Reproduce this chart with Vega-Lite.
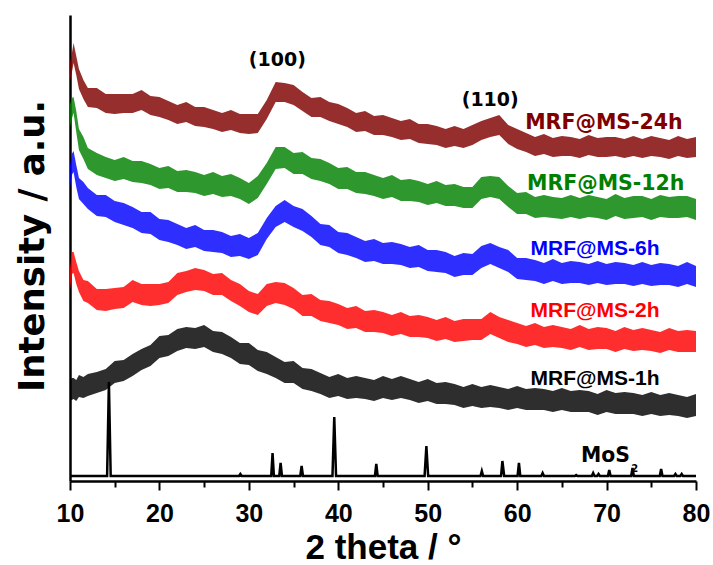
{
"$schema": "https://vega.github.io/schema/vega-lite/v6.json",
"width": 626, "height": 466,
"autosize": {"type": "none"},
"padding": {"left": 70, "top": 15, "right": 17, "bottom": 84},
"background": "white",
"config": {
"view": {"stroke": null},
"axisY": {"labels": false, "ticks": false, "grid": false,
"domainWidth": 2.5, "domainColor": "black",
"titleFont": "DejaVu Sans", "titleFontSize": 35.5, "titleFontWeight": "bold", "titleColor": "black",
"titleAngle": 270, "titleX": -27, "titleY": 230.5, "titleAlign": "center", "titleBaseline": "alphabetic"}
},
"datasets": {
"xrd": [
{"x":10,"h24":419,"l24":400,"h12":376,"l12":354,"h6":315,"l6":293,"h2":212,"l2":191,"h1":101,"l1":80},
{"x":10.2,"h24":427,"l24":408,"h12":383,"l12":362,"h6":327,"l6":306,"h2":229,"l2":207,"h1":103,"l1":81},
{"x":10.4,"h24":438,"l24":418,"h12":384,"l12":368,"h6":330,"l6":309,"h2":229,"l2":208,"h1":103,"l1":82},
{"x":10.7,"h24":425,"l24":406,"h12":370,"l12":349,"h6":316,"l6":294,"h2":219,"l2":197,"h1":101,"l1":80},
{"x":11,"h24":412,"l24":392,"h12":352,"l12":331,"h6":303,"l6":282,"h2":210,"l2":189,"h1":106,"l1":84},
{"x":11.5,"h24":401,"l24":382,"h12":344,"l12":322,"h6":299,"l6":277,"h2":201,"l2":180,"h1":104,"l1":83},
{"x":12,"h24":393,"l24":374,"h12":333,"l12":312,"h6":293,"l6":272,"h2":200,"l2":178,"h1":107,"l1":85},
{"x":13,"h24":393,"l24":373,"h12":328,"l12":306,"h6":286,"l6":265,"h2":192,"l2":171,"h1":109,"l1":88},
{"x":14,"h24":387,"l24":368,"h12":324,"l12":303,"h6":286,"l6":264,"h2":192,"l2":170,"h1":112,"l1":91},
{"x":15,"h24":387,"l24":367,"h12":321,"l12":300,"h6":280,"l6":259,"h2":193,"l2":172,"h1":120,"l1":98},
{"x":16,"h24":387,"l24":368,"h12":324,"l12":302,"h6":278,"l6":256,"h2":194,"l2":173,"h1":121,"l1":100},
{"x":17,"h24":387,"l24":368,"h12":320,"l12":299,"h6":274,"l6":253,"h2":201,"l2":179,"h1":127,"l1":105},
{"x":18,"h24":391,"l24":371,"h12":320,"l12":298,"h6":269,"l6":248,"h2":197,"l2":176,"h1":132,"l1":111},
{"x":19,"h24":385,"l24":366,"h12":317,"l12":296,"h6":269,"l6":247,"h2":197,"l2":175,"h1":136,"l1":115},
{"x":20,"h24":384,"l24":364,"h12":313,"l12":292,"h6":262,"l6":241,"h2":197,"l2":176,"h1":145,"l1":123},
{"x":21,"h24":380,"l24":361,"h12":315,"l12":293,"h6":261,"l6":239,"h2":199,"l2":178,"h1":146,"l1":125},
{"x":22,"h24":376,"l24":357,"h12":310,"l12":289,"h6":257,"l6":236,"h2":208,"l2":186,"h1":152,"l1":130},
{"x":23,"h24":379,"l24":359,"h12":311,"l12":289,"h6":253,"l6":232,"h2":210,"l2":189,"h1":154,"l1":133},
{"x":24,"h24":374,"l24":355,"h12":309,"l12":288,"h6":256,"l6":234,"h2":213,"l2":191,"h1":153,"l1":132},
{"x":25,"h24":374,"l24":354,"h12":306,"l12":285,"h6":251,"l6":230,"h2":211,"l2":190,"h1":156,"l1":134},
{"x":26,"h24":371,"l24":352,"h12":309,"l12":287,"h6":251,"l6":229,"h2":207,"l2":186,"h1":150,"l1":129},
{"x":27,"h24":368,"l24":349,"h12":305,"l12":284,"h6":249,"l6":228,"h2":208,"l2":186,"h1":149,"l1":127},
{"x":28,"h24":371,"l24":351,"h12":307,"l12":285,"h6":245,"l6":224,"h2":201,"l2":180,"h1":144,"l1":123},
{"x":29,"h24":367,"l24":348,"h12":303,"l12":282,"h6":247,"l6":225,"h2":197,"l2":175,"h1":138,"l1":117},
{"x":30,"h24":367,"l24":347,"h12":298,"l12":277,"h6":243,"l6":222,"h2":190,"l2":169,"h1":138,"l1":116},
{"x":31,"h24":367,"l24":348,"h12":305,"l12":283,"h6":248,"l6":226,"h2":187,"l2":166,"h1":131,"l1":110},
{"x":32,"h24":381,"l24":362,"h12":318,"l12":297,"h6":263,"l6":242,"h2":197,"l2":175,"h1":129,"l1":107},
{"x":33,"h24":399,"l24":379,"h12":334,"l12":312,"h6":275,"l6":254,"h2":199,"l2":178,"h1":124,"l1":103},
{"x":34,"h24":398,"l24":379,"h12":334,"l12":313,"h6":281,"l6":259,"h2":198,"l2":176,"h1":119,"l1":98},
{"x":35,"h24":396,"l24":376,"h12":328,"l12":307,"h6":275,"l6":254,"h2":193,"l2":172,"h1":120,"l1":98},
{"x":36,"h24":389,"l24":370,"h12":329,"l12":307,"h6":272,"l6":250,"h2":186,"l2":165,"h1":113,"l1":92},
{"x":37,"h24":383,"l24":364,"h12":323,"l12":302,"h6":265,"l6":244,"h2":187,"l2":165,"h1":112,"l1":90},
{"x":38,"h24":384,"l24":364,"h12":322,"l12":300,"h6":257,"l6":236,"h2":181,"l2":160,"h1":108,"l1":87},
{"x":39,"h24":379,"l24":360,"h12":318,"l12":297,"h6":256,"l6":234,"h2":180,"l2":158,"h1":104,"l1":83},
{"x":40,"h24":377,"l24":357,"h12":313,"l12":292,"h6":249,"l6":228,"h2":177,"l2":156,"h1":107,"l1":85},
{"x":41,"h24":373,"l24":354,"h12":314,"l12":292,"h6":248,"l6":226,"h2":173,"l2":152,"h1":103,"l1":82},
{"x":42,"h24":368,"l24":349,"h12":309,"l12":288,"h6":244,"l6":223,"h2":175,"l2":153,"h1":105,"l1":83},
{"x":43,"h24":370,"l24":350,"h12":309,"l12":287,"h6":240,"l6":219,"h2":170,"l2":149,"h1":103,"l1":82},
{"x":44,"h24":365,"l24":346,"h12":306,"l12":285,"h6":242,"l6":220,"h2":171,"l2":149,"h1":101,"l1":80},
{"x":45,"h24":366,"l24":346,"h12":303,"l12":282,"h6":238,"l6":217,"h2":169,"l2":148,"h1":105,"l1":83},
{"x":46,"h24":363,"l24":344,"h12":306,"l12":284,"h6":239,"l6":217,"h2":166,"l2":145,"h1":102,"l1":81},
{"x":47,"h24":360,"l24":341,"h12":301,"l12":280,"h6":237,"l6":216,"h2":169,"l2":147,"h1":105,"l1":83},
{"x":48,"h24":362,"l24":342,"h12":302,"l12":280,"h6":234,"l6":213,"h2":165,"l2":144,"h1":102,"l1":81},
{"x":49,"h24":357,"l24":338,"h12":300,"l12":279,"h6":236,"l6":214,"h2":166,"l2":144,"h1":99,"l1":78},
{"x":50,"h24":357,"l24":337,"h12":297,"l12":276,"h6":231,"l6":210,"h2":164,"l2":143,"h1":102,"l1":80},
{"x":51,"h24":355,"l24":336,"h12":300,"l12":278,"h6":231,"l6":209,"h2":161,"l2":140,"h1":98,"l1":77},
{"x":52,"h24":352,"l24":333,"h12":296,"l12":275,"h6":229,"l6":208,"h2":164,"l2":142,"h1":99,"l1":77},
{"x":53,"h24":355,"l24":335,"h12":297,"l12":275,"h6":225,"l6":204,"h2":160,"l2":139,"h1":97,"l1":76},
{"x":54,"h24":352,"l24":333,"h12":294,"l12":273,"h6":228,"l6":206,"h2":162,"l2":140,"h1":94,"l1":73},
{"x":55,"h24":356,"l24":336,"h12":294,"l12":273,"h6":227,"l6":206,"h2":162,"l2":141,"h1":97,"l1":75},
{"x":56,"h24":360,"l24":341,"h12":304,"l12":282,"h6":235,"l6":213,"h2":162,"l2":141,"h1":94,"l1":73},
{"x":57,"h24":363,"l24":344,"h12":305,"l12":284,"h6":238,"l6":217,"h2":169,"l2":147,"h1":96,"l1":74},
{"x":58,"h24":366,"l24":346,"h12":304,"l12":282,"h6":234,"l6":213,"h2":164,"l2":143,"h1":94,"l1":73},
{"x":59,"h24":356,"l24":337,"h12":295,"l12":274,"h6":231,"l6":209,"h2":161,"l2":139,"h1":92,"l1":71},
{"x":60,"h24":352,"l24":332,"h12":288,"l12":267,"h6":223,"l6":202,"h2":158,"l2":137,"h1":95,"l1":73},
{"x":61,"h24":348,"l24":329,"h12":289,"l12":267,"h6":223,"l6":201,"h2":155,"l2":134,"h1":92,"l1":71},
{"x":62,"h24":344,"l24":325,"h12":284,"l12":263,"h6":221,"l6":200,"h2":158,"l2":136,"h1":93,"l1":71},
{"x":63,"h24":347,"l24":327,"h12":286,"l12":264,"h6":218,"l6":197,"h2":154,"l2":133,"h1":92,"l1":71},
{"x":64,"h24":343,"l24":324,"h12":284,"l12":263,"h6":222,"l6":200,"h2":156,"l2":134,"h1":90,"l1":69},
{"x":65,"h24":345,"l24":325,"h12":283,"l12":262,"h6":218,"l6":197,"h2":154,"l2":133,"h1":93,"l1":71},
{"x":66,"h24":344,"l24":325,"h12":286,"l12":264,"h6":220,"l6":198,"h2":152,"l2":131,"h1":90,"l1":69},
{"x":67,"h24":342,"l24":323,"h12":283,"l12":262,"h6":219,"l6":198,"h2":156,"l2":134,"h1":91,"l1":69},
{"x":68,"h24":346,"l24":326,"h12":286,"l12":264,"h6":217,"l6":196,"h2":152,"l2":131,"h1":90,"l1":69},
{"x":69,"h24":343,"l24":324,"h12":284,"l12":263,"h6":220,"l6":198,"h2":154,"l2":132,"h1":87,"l1":66},
{"x":70,"h24":344,"l24":324,"h12":282,"l12":261,"h6":217,"l6":196,"h2":153,"l2":132,"h1":91,"l1":69},
{"x":71,"h24":344,"l24":325,"h12":287,"l12":265,"h6":219,"l6":197,"h2":150,"l2":129,"h1":88,"l1":67},
{"x":72,"h24":342,"l24":323,"h12":283,"l12":262,"h6":218,"l6":197,"h2":154,"l2":132,"h1":89,"l1":67},
{"x":73,"h24":345,"l24":325,"h12":285,"l12":263,"h6":216,"l6":195,"h2":151,"l2":130,"h1":88,"l1":67},
{"x":74,"h24":342,"l24":323,"h12":285,"l12":264,"h6":219,"l6":197,"h2":153,"l2":131,"h1":86,"l1":65},
{"x":75,"h24":345,"l24":325,"h12":282,"l12":261,"h6":216,"l6":195,"h2":151,"l2":130,"h1":89,"l1":67},
{"x":76,"h24":343,"l24":324,"h12":286,"l12":264,"h6":218,"l6":196,"h2":149,"l2":128,"h1":86,"l1":65},
{"x":77,"h24":341,"l24":322,"h12":284,"l12":263,"h6":217,"l6":196,"h2":153,"l2":131,"h1":88,"l1":66},
{"x":78,"h24":345,"l24":325,"h12":285,"l12":263,"h6":215,"l6":194,"h2":150,"l2":129,"h1":86,"l1":65},
{"x":79,"h24":342,"l24":323,"h12":285,"l12":264,"h6":219,"l6":197,"h2":151,"l2":129,"h1":84,"l1":63},
{"x":80,"h24":344,"l24":324,"h12":282,"l12":261,"h6":215,"l6":194,"h2":150,"l2":129,"h1":87,"l1":65}
],
"mos2": [
{"x":10,"y":5},{"x":14.15,"y":5},{"x":14.35,"y":99},{"x":14.55,"y":5},
{"x":28.9,"y":5},{"x":29.05,"y":7},{"x":29.2,"y":5},
{"x":32.5,"y":5},{"x":32.65,"y":28},{"x":32.8,"y":5},
{"x":33.4,"y":5},{"x":33.55,"y":18},{"x":33.7,"y":5},
{"x":35.75,"y":5},{"x":35.9,"y":15},{"x":36.05,"y":5},
{"x":39.35,"y":5},{"x":39.55,"y":64},{"x":39.75,"y":5},
{"x":44.1,"y":5},{"x":44.25,"y":17},{"x":44.4,"y":5},
{"x":49.65,"y":5},{"x":49.85,"y":35},{"x":50.05,"y":5},
{"x":55.9,"y":5},{"x":56.05,"y":10},{"x":56.2,"y":5},
{"x":58.2,"y":5},{"x":58.35,"y":20},{"x":58.55,"y":5},
{"x":60.05,"y":5},{"x":60.2,"y":18},{"x":60.35,"y":5},
{"x":62.7,"y":5},{"x":62.85,"y":8},{"x":63,"y":5},
{"x":66.45,"y":5},{"x":66.6,"y":6},{"x":66.75,"y":5},
{"x":68.35,"y":5},{"x":68.5,"y":8},{"x":68.65,"y":5},
{"x":68.95,"y":5},{"x":69.1,"y":7},{"x":69.25,"y":5},
{"x":70.15,"y":5},{"x":70.3,"y":11},{"x":70.45,"y":5},
{"x":72.75,"y":5},{"x":72.9,"y":13},{"x":73.05,"y":5},
{"x":75.95,"y":5},{"x":76.1,"y":12},{"x":76.25,"y":5},
{"x":77.55,"y":5},{"x":77.7,"y":7},{"x":77.85,"y":5},
{"x":78.25,"y":5},{"x":78.4,"y":7},{"x":78.55,"y":5},
{"x":80,"y":5}
],
"labelsWide": [
{"label":"MRF@MS-24h","x":60.9,"y":352.5},
{"label":"MRF@MS-12h","x":61.1,"y":291}
],
"labelsNarrow": [
{"label":"MRF@MS-6h","x":61.5,"y":226.5},
{"label":"MRF@MS-2h","x":61.5,"y":164.5},
{"label":"MRF@MS-1h","x":61.5,"y":96.5}
],
"planes": [
{"label":"(100)","x":33.19,"y":415.3},
{"label":"(110)","x":56.99,"y":375}
],
"mosLabel": [{"label":"MoS","x":67.13,"y":19.3}],
"mosSub": [{"label":"2","x":72.76,"y":9}]
},
"encoding": {
"x": {"field": "x", "type": "quantitative",
"scale": {"domain": [10, 80], "nice": false, "zero": false},
"axis": {
"title": "2 theta / °",
"values": [10,15,20,25,30,35,40,45,50,55,60,65,70,75,80],
"labelExpr": "datum.value % 10 === 0 ? datum.label : ''",
"tickSize": {"condition": {"test": "datum.value % 10 === 0", "value": 9}, "value": 6},
"tickWidth": 2, "tickColor": "black",
"domainWidth": 2.5, "domainColor": "black",
"grid": false,
"labelFont": "Liberation Sans", "labelFontSize": 25, "labelFontWeight": "bold", "labelColor": "black",
"labelBaseline": "alphabetic", "labelPadding": 31, "labelFlush": false, "labelOverlap": false,
"titleFont": "Liberation Sans", "titleFontSize": 35, "titleFontWeight": "bold", "titleColor": "black",
"titleX": 313, "titleY": 77, "titleBaseline": "alphabetic", "titleAlign": "center"
}
}
},
"layer": [
{"data": {"name": "xrd"},
"mark": {"type": "area", "color": "#000000", "opacity": 0.82},
"encoding": {
"y": {"field": "h1", "type": "quantitative", "scale": {"domain": [0, 466], "nice": false, "zero": false}, "axis": {"title": "Intensity / a.u."}},
"y2": {"field": "l1"}
}},
{"data": {"name": "xrd"},
"mark": {"type": "area", "color": "#ff0000", "opacity": 0.82},
"encoding": {"y": {"field": "h2", "type": "quantitative", "axis": {"title": "Intensity / a.u."}}, "y2": {"field": "l2"}}},
{"data": {"name": "xrd"},
"mark": {"type": "area", "color": "#0000ff", "opacity": 0.82},
"encoding": {"y": {"field": "h6", "type": "quantitative", "axis": {"title": "Intensity / a.u."}}, "y2": {"field": "l6"}}},
{"data": {"name": "xrd"},
"mark": {"type": "area", "color": "#008000", "opacity": 0.82},
"encoding": {"y": {"field": "h12", "type": "quantitative", "axis": {"title": "Intensity / a.u."}}, "y2": {"field": "l12"}}},
{"data": {"name": "xrd"},
"mark": {"type": "area", "color": "#800000", "opacity": 0.82},
"encoding": {"y": {"field": "h24", "type": "quantitative", "axis": {"title": "Intensity / a.u."}}, "y2": {"field": "l24"}}},
{"data": {"name": "mos2"},
"mark": {"type": "line", "color": "#000000", "strokeWidth": 2.5, "strokeJoin": "miter"},
"encoding": {"y": {"field": "y", "type": "quantitative", "axis": {"title": "Intensity / a.u."}}}},
{"data": {"name": "labelsWide"},
"mark": {"type": "text", "font": "DejaVu Sans", "fontSize": 20.5, "fontWeight": "bold", "align": "left", "baseline": "alphabetic"},
"encoding": {"y": {"field": "y", "type": "quantitative", "axis": {"title": "Intensity / a.u."}},
"text": {"field": "label"},
"color": {"field": "label", "type": "nominal", "legend": null,
"scale": {"domain": ["MRF@MS-24h","MRF@MS-12h","MRF@MS-6h","MRF@MS-2h","MRF@MS-1h"], "range": ["#800000","#008000","#0000ff","#ff0000","#000000"]}}}},
{"data": {"name": "labelsNarrow"},
"mark": {"type": "text", "font": "Liberation Sans", "fontSize": 21, "fontWeight": "bold", "align": "left", "baseline": "alphabetic"},
"encoding": {"y": {"field": "y", "type": "quantitative", "axis": {"title": "Intensity / a.u."}},
"text": {"field": "label"},
"color": {"field": "label", "type": "nominal", "legend": null,
"scale": {"domain": ["MRF@MS-24h","MRF@MS-12h","MRF@MS-6h","MRF@MS-2h","MRF@MS-1h"], "range": ["#800000","#008000","#0000ff","#ff0000","#000000"]}}}},
{"data": {"name": "planes"},
"mark": {"type": "text", "font": "DejaVu Sans", "fontSize": 19, "fontWeight": "bold", "align": "center", "baseline": "alphabetic", "color": "black"},
"encoding": {"y": {"field": "y", "type": "quantitative", "axis": {"title": "Intensity / a.u."}}, "text": {"field": "label"}}},
{"data": {"name": "mosLabel"},
"mark": {"type": "text", "font": "DejaVu Sans", "fontSize": 20.4, "fontWeight": "bold", "align": "left", "baseline": "alphabetic", "color": "black"},
"encoding": {"y": {"field": "y", "type": "quantitative", "axis": {"title": "Intensity / a.u."}}, "text": {"field": "label"}}},
{"data": {"name": "mosSub"},
"mark": {"type": "text", "font": "DejaVu Sans", "fontSize": 10, "fontWeight": "bold", "align": "left", "baseline": "alphabetic", "color": "black"},
"encoding": {"y": {"field": "y", "type": "quantitative", "axis": {"title": "Intensity / a.u."}}, "text": {"field": "label"}}}
]
}
